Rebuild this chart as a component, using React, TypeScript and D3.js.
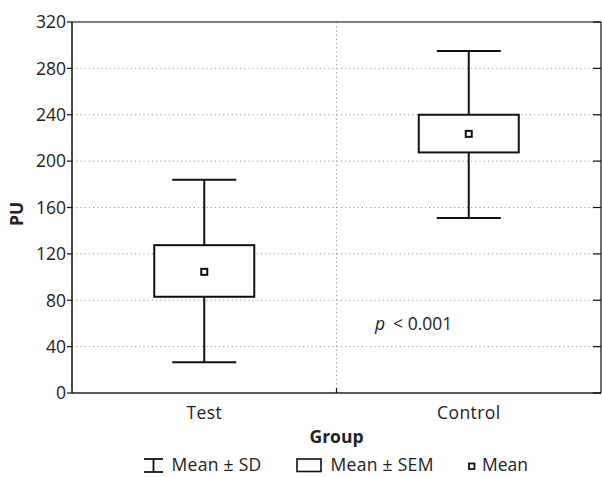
import React from "react";
import * as d3 from "d3";

const groups = ["Test", "Control"];
const sdLow = [26.5, 151];
const sdHigh = [184, 295];
const semLow = [83, 207.5];
const semHigh = [127.5, 240];
const means = [104.5, 223.5];
const yTicks = [0, 40, 80, 120, 160, 200, 240, 280, 320];

export default function App() {
  const W = 602, H = 477;
  const left = 72, right = 601, top = 22, bottom = 393;
  const x = d3.scaleBand<string>().domain(groups).range([left, right]);
  const y = d3.scaleLinear().domain([0, 320]).range([bottom, top]);
  const font = "'Open Sans', Lato, sans-serif";
  const fs = 17.5;
  const boxW = 100, capW = 64;
  const midX = (left + right) / 2;
  const ly = 471;
  return (
    <svg width={W} height={H} style={{ position: "absolute", left: 0, top: 0 }} fontFamily={font}>
      <rect width={W} height={H} fill="#fff" />
      {yTicks.slice(1, -1).map((t) => (
        <line key={t} x1={left} x2={right} y1={y(t)} y2={y(t)} stroke="#999" strokeDasharray="1.2,3" strokeWidth={1} />
      ))}
      <line x1={midX} x2={midX} y1={top} y2={bottom} stroke="#999" strokeDasharray="1.2,3" />
      {/* frame */}
      <line x1={left} x2={right} y1={top} y2={top} stroke="#555" strokeWidth={1.5} />
      <line x1={right} x2={right} y1={top} y2={bottom} stroke="#111" strokeWidth={1.2} />
      <line x1={left} x2={right} y1={bottom} y2={bottom} stroke="#222" strokeWidth={1.5} />
      <line x1={left} x2={left} y1={top} y2={bottom} stroke="#111" strokeWidth={1.5} />
      <line x1={midX} x2={midX} y1={bottom} y2={bottom - 5} stroke="#111" strokeWidth={1.2} />
      {yTicks.map((t) => (
        <g key={t}>
          <line x1={left - 5} x2={left} y1={y(t)} y2={y(t)} stroke="#111" strokeWidth={1.2} />
          <line x1={right - 8} x2={right} y1={y(t)} y2={y(t)} stroke="#111" strokeWidth={1.2} />
          <text x={left - 6} y={y(t)} dy="0.36em" textAnchor="end" fontSize={fs} fill="#222">{t}</text>
        </g>
      ))}
      {groups.map((g, i) => {
        const cx = x(g)! + x.bandwidth() / 2;
        return (
          <g key={g} stroke="#111" strokeWidth={2} fill="none">
            <line x1={cx} x2={cx} y1={y(sdHigh[i])} y2={y(sdLow[i])} />
            <line x1={cx - capW / 2} x2={cx + capW / 2} y1={y(sdHigh[i])} y2={y(sdHigh[i])} />
            <line x1={cx - capW / 2} x2={cx + capW / 2} y1={y(sdLow[i])} y2={y(sdLow[i])} />
            <rect x={cx - boxW / 2} y={y(semHigh[i])} width={boxW} height={y(semLow[i]) - y(semHigh[i])} fill="#fff" />
            <rect x={cx - 3} y={y(means[i]) - 3} width={6} height={6} fill="#fff" />
            <text x={cx} y={419} textAnchor="middle" fontSize={fs} fill="#222" stroke="none" letterSpacing={0.4}>{g}</text>
          </g>
        );
      })}
      <text x={375} y={330} fontSize={fs} fill="#222">
        <tspan fontStyle="italic">p</tspan>
        <tspan dx={8}>&lt; 0.001</tspan>
      </text>
      <text x={midX} y={443} textAnchor="middle" fontSize={fs} fontWeight="bold" fill="#222">Group</text>
      <text transform={`translate(23,214) rotate(-90)`} textAnchor="middle" fontSize={fs} fontWeight="bold" fill="#222">PU</text>
      {/* legend */}
      <g stroke="#111" strokeWidth={1.8} fill="none">
        <line x1={144} x2={163} y1={ly - 12} y2={ly - 12} />
        <line x1={144} x2={163} y1={ly + 1} y2={ly + 1} />
        <line x1={153.5} x2={153.5} y1={ly - 12} y2={ly + 1} />
        <rect x={297} y={ly - 12} width={24} height={12.5} strokeWidth={1.6} />
        <rect x={469} y={ly - 7.5} width={5.5} height={5.5} strokeWidth={1.8} />
      </g>
      <text x={171.5} y={ly} fontSize={fs} fill="#222" letterSpacing={0.3}>Mean ± SD</text>
      <text x={330.5} y={ly} fontSize={fs} fill="#222" letterSpacing={0.3}>Mean ± SEM</text>
      <text x={482} y={ly} fontSize={fs} fill="#222">Mean</text>
    </svg>
  );
}
